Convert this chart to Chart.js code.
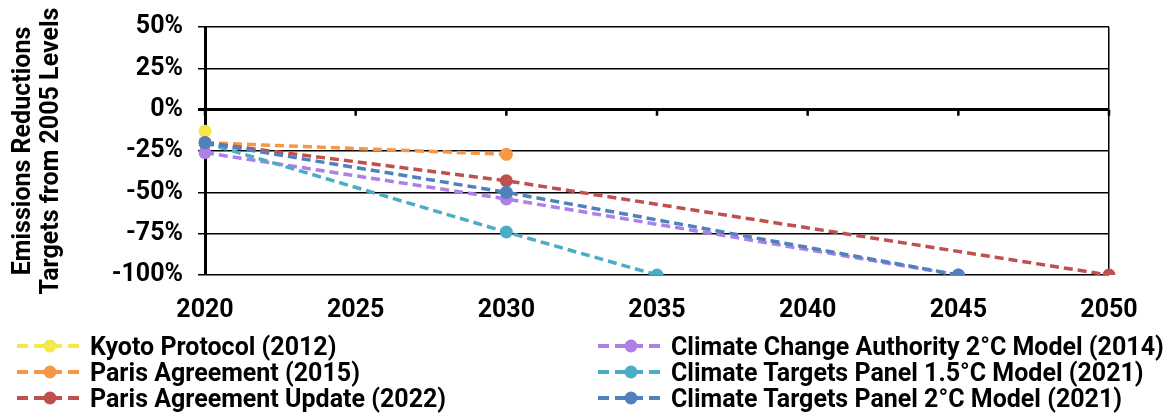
<!DOCTYPE html>
<html>
<head>
<meta charset="utf-8">
<script src="https://cdn.jsdelivr.net/npm/chart.js@4/dist/chart.umd.min.js"></script>
<style>
  body { margin: 0; background: #fff; font-family: Roboto, "Noto Sans", sans-serif; }
  #wrap { position: relative; width: 1165px; height: 415px; }
  #legend { position: absolute; left: 0; top: 333px; width: 1165px; }
  .item { position: absolute; display: flex; align-items: center; height: 26px;
          font-weight: bold; font-size: 25px; color: #000; white-space: nowrap; }
  .item svg { margin-right: 9px; }
</style>
</head>
<body>
<div id="wrap">
  <canvas id="chart" width="1165" height="415"></canvas>
  <div id="legend"></div>
</div>
<script>
// years on the x axis, values are % change from 2005
const years = ["2020", "2025", "2030", "2035", "2040", "2045", "2050"];
const kyoto = [-13, null, null, null, null, null, null];
const ccaModel = [-26, null, -54, null, null, -100, null];
const paris = [-20, null, -27, null, null, null, null];
const ctp15Model = [-20, null, -74, -100, null, null, null];
const parisUpdate = [-20, null, -43, null, null, null, -100];
const ctp2Model = [-20, null, -50, null, null, -100, null];

const seriesNames = [
    "Kyoto Protocol (2012)",
    "Climate Change Authority 2°C Model (2014)",
    "Paris Agreement (2015)",
    "Climate Targets Panel 1.5°C Model (2021)",
    "Paris Agreement Update (2022)",
    "Climate Targets Panel 2°C Model (2021)"
];
const seriesValues = [kyoto, ccaModel, paris, ctp15Model, parisUpdate, ctp2Model];
const seriesColors = ["#f4e94a", "#ac80e6", "#f79646", "#4bacc6", "#c0504d", "#4f81bd"];
const yTicks = [50, 25, 0, -25, -50, -75, -100];

const xTickFont = { family: "Roboto", weight: "bold", size: 25 };
// tighter line height so the 50% line sits near the top edge
const yTickFont = { family: "Roboto", weight: "bold", size: 25, lineHeight: 0.96 };

// small tick marks hanging below the 0% line
const zeroLineTicks = {
    id: "zeroLineTicks",
    beforeDatasetsDraw(chart) {
        const x = chart.scales.x, y = chart.scales.y;
        const y0 = y.getPixelForValue(0);
        const c = chart.ctx;
        c.save();
        c.strokeStyle = "#000";
        c.lineWidth = 2.5;
        c.beginPath();
        years.forEach((_, i) => {
            const px = x.getPixelForTick(i);
            c.moveTo(px, y0);
            c.lineTo(px, y0 + 6);
        });
        c.stroke();
        c.restore();
    }
};

const datasets = seriesNames.map((name, i) => ({
    label: name,
    data: seriesValues[i],
    borderColor: seriesColors[i],
    backgroundColor: seriesColors[i],
    borderWidth: 3.5,
    borderDash: [9, 5],
    pointRadius: 6.5,
    pointBorderWidth: 0,
    spanGaps: true,
    order: seriesNames.length - i
}));

new Chart(document.getElementById("chart"), {
    type: "line",
    data: { labels: years, datasets: datasets },
    options: {
        responsive: false,
        animation: false,
        layout: { padding: { top: 24, right: 56, left: 0, bottom: 0 } },
        plugins: { legend: { display: false }, tooltip: { enabled: false } },
        scales: {
            x: {
                offset: false,
                border: { display: false },
                grid: {
                    drawTicks: false,
                    color: ctx => ctx.index === years.length - 1 ? "#000" : "rgba(0,0,0,0)",
                    lineWidth: 1.5
                },
                ticks: { color: "#000", font: xTickFont, padding: 21, maxRotation: 0 },
                afterFit: s => { s.height = 140; }
            },
            y: {
                min: -100,
                max: 50,
                border: { color: "#000", width: 3 },
                grid: {
                    color: "#000",
                    lineWidth: ctx => ctx.tick && ctx.tick.value === 0 ? 3 : 1.5,
                    tickLength: 7
                },
                afterBuildTicks: s => { s.ticks = yTicks.map(v => ({ value: v })); },
                ticks: {
                    color: "#000",
                    font: yTickFont,
                    padding: 15,
                    callback: v => v + "%"
                },
                title: {
                    display: true,
                    text: ["Emissions Reductions", "Targets from 2005 Levels"],
                    color: "#000",
                    font: { family: "Roboto", weight: "bold", size: 25, lineHeight: 1.15 },
                    padding: { top: 9, bottom: 0 }
                },
                afterFit: s => { s.width = 205; }
            }
        }
    },
    plugins: [zeroLineTicks]
});

// two-column legend, filled row by row
const legend = document.getElementById("legend");
const colX = [17, 598];
seriesNames.forEach((name, i) => {
    const col = i % 2, row = Math.floor(i / 2);
    const color = seriesColors[i];
    const item = document.createElement("div");
    item.className = "item";
    item.style.left = colX[col] + "px";
    item.style.top = (row * 26) + "px";
    item.innerHTML =
        '<svg width="64" height="14" viewBox="0 0 64 14">' +
        '<line x1="0" y1="7" x2="64" y2="7" stroke="' + color + '" stroke-width="4" stroke-dasharray="11,6"/>' +
        '<circle cx="33" cy="7" r="6.5" fill="' + color + '"/></svg>';
    const span = document.createElement("span");
    span.textContent = name;
    item.appendChild(span);
    legend.appendChild(item);
});
</script>
</body>
</html>
